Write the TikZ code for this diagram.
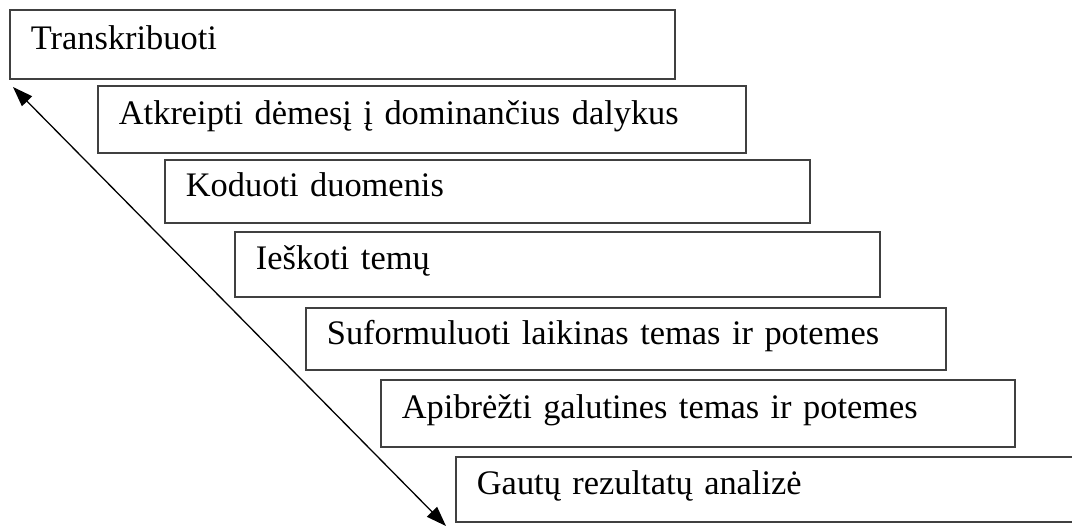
\documentclass[tikz,border=0pt]{standalone}
\usepackage{fontspec}
\setmainfont{Liberation Serif}
\usetikzlibrary{arrows.meta}
\begin{document}
\begin{tikzpicture}[x=0.5pt, y=-0.5pt, >={Triangle[length=10pt, width=7pt]},
  every node/.style={draw=black!75, line width=0.9pt, rectangle, anchor=north west, align=left,
    inner xsep=10.5pt, inner ysep=0pt, text height=0.7em, text depth=0.15em,
    font=\fontsize{17.2}{20}\selectfont}]
  \useasboundingbox (0,0) rectangle (1072,527);
  \clip (0,0) rectangle (1072,527);
  \node (transcribe) at (9,9)    [text width=311.5pt, minimum height=34.5pt] {Transkribuoti};
  \node (attend)     at (97,85)  [text width=303pt,   minimum height=33.5pt] {Atkreipti dėmesį į dominančius dalykus};
  \node (code)       at (164,159) [text width=301.5pt, minimum height=31.5pt] {Koduoti duomenis};
  \node (search)     at (234,231) [text width=301.5pt, minimum height=32.5pt] {Ieškoti temų};
  \node (draft)      at (305,307) [text width=299pt,   minimum height=31pt]   {Suformuluoti laikinas temas ir potemes};
  \node (define)     at (380,379) [text width=296pt,   minimum height=33.5pt] {Apibrėžti galutines temas ir potemes};
  \node (results)    at (455,456) [text width=299pt,   minimum height=32.5pt] {Gautų rezultatų analizė};
  \coordinate (start) at (13,87);
  \coordinate (end) at (446,526);
  \draw[<->, line width=0.65pt] (start) -- (end);
\end{tikzpicture}
\end{document}
